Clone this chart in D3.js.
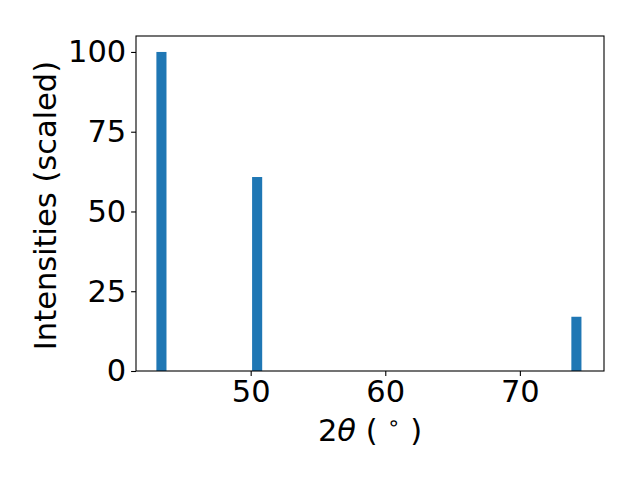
<!DOCTYPE html>
<html><head><meta charset="utf-8">
<script src="https://cdn.jsdelivr.net/npm/d3@7"></script>
<style>body{margin:0;background:#fff}svg{display:block}text{font-family:"DejaVu Sans",sans-serif}</style>
</head><body>
<script>
const positions = [43.37, 50.48, 74.2];
const intensities = [100, 60.8, 17.0];
const barWidth = 0.75;
const xTicks = [50, 60, 70];
const yTicks = [0, 25, 50, 75, 100];

const W = 640, H = 480;
const m = {left: 136, right: 604, top: 36, bottom: 371};
const svg = d3.select("body").append("svg").attr("width", W).attr("height", H);
const x = d3.scaleLinear().domain([41.48, 76.25]).range([m.left, m.right]);
const y = d3.scaleLinear().domain([0, 105]).range([m.bottom, m.top]);

svg.selectAll("rect.bar").data(positions).enter().append("rect")
  .attr("x", (d) => x(d - barWidth/2))
  .attr("width", (d) => x(d + barWidth/2) - x(d - barWidth/2))
  .attr("y", (d, i) => y(intensities[i]))
  .attr("height", (d, i) => y(0) - y(intensities[i]))
  .attr("fill", "#1f77b4");

const fs = 30.5;
const xAxis = svg.append("g").attr("transform", `translate(0,${m.bottom})`)
  .call(d3.axisBottom(x).tickValues(xTicks).tickSize(4.9).tickPadding(4.9).tickFormat(d3.format("d")));
const yAxis = svg.append("g").attr("transform", `translate(${m.left},0)`)
  .call(d3.axisLeft(y).tickValues(yTicks).tickSize(4.9).tickPadding(4.9).tickFormat(d3.format("d")));
[xAxis, yAxis].forEach(g => {
  g.select(".domain").remove();
  g.selectAll(".tick line").attr("stroke", "#000").attr("stroke-width", 1.1);
  g.selectAll(".tick text").attr("fill", "#000").style("font-size", fs + "px");
});

svg.append("rect").attr("x", m.left).attr("y", m.top)
  .attr("width", m.right - m.left).attr("height", m.bottom - m.top)
  .attr("fill", "none").attr("stroke", "#000").attr("stroke-width", 1.1);

const xl = svg.append("text").attr("x", 370).attr("y", 441)
  .attr("text-anchor", "middle").style("font-size", fs + "px").attr("fill", "#000");
xl.append("tspan").text("2");
xl.append("tspan").style("font-style", "italic").text("θ");
xl.append("tspan").text(" ( ");
xl.append("tspan").attr("dy", -11).style("font-size", "21px").text("∘");
xl.append("tspan").attr("dy", 11).text(" )");

svg.append("text").attr("transform", `translate(45,${(m.top + m.bottom) / 2 + 2}) rotate(-90)`)
  .attr("text-anchor", "middle").attr("dy", "0.35em").style("font-size", fs + "px")
  .attr("fill", "#000").text("Intensities (scaled)");
</script>
</body></html>
